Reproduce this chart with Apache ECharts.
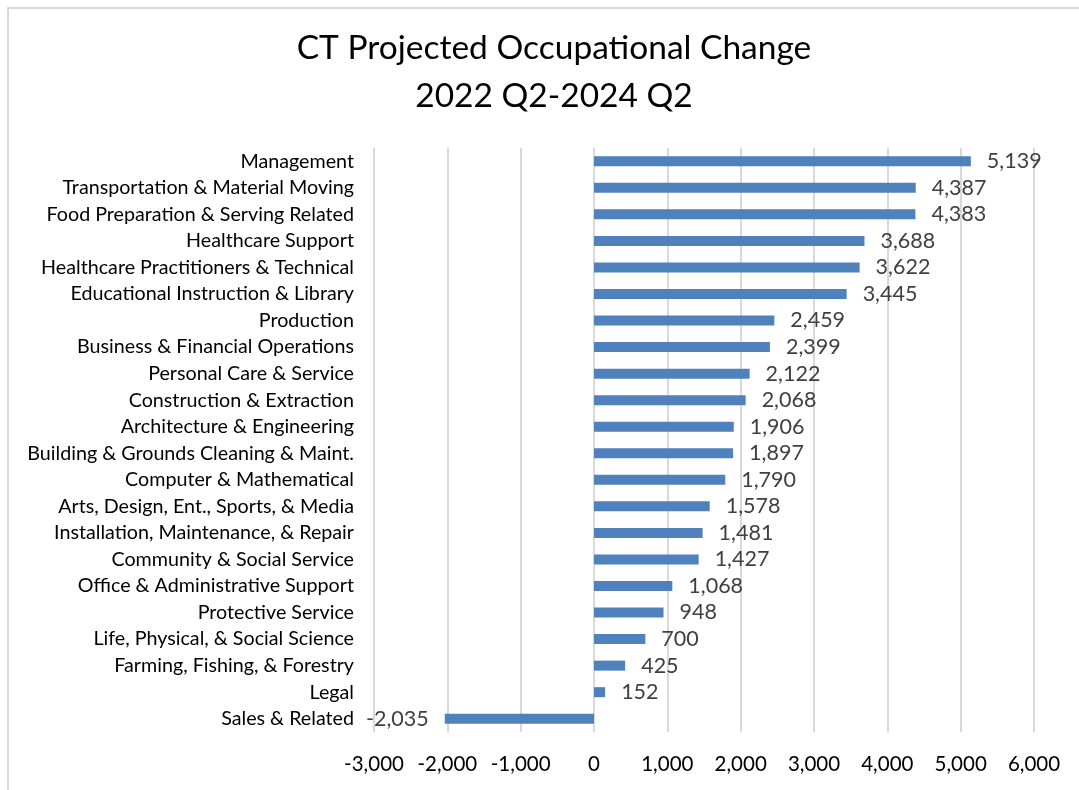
<!DOCTYPE html>
<html>
<head>
<meta charset="utf-8">
<script src="https://cdn.jsdelivr.net/npm/echarts@6/dist/echarts.min.js"></script>
<style>
html, body { margin: 0; padding: 0; background: #fff; }
#chart { width: 1079px; height: 790px; }
</style>
</head>
<body>
<div id="chart"></div>
<script>
// occupations, top to bottom as in the picture
var categories = [
	"Management",
	"Transportation & Material Moving",
	"Food Preparation & Serving Related",
	"Healthcare Support",
	"Healthcare Practitioners & Technical",
	"Educational Instruction & Library",
	"Production",
	"Business & Financial Operations",
	"Personal Care & Service",
	"Construction & Extraction",
	"Architecture & Engineering",
	"Building & Grounds Cleaning & Maint.",
	"Computer & Mathematical",
	"Arts, Design, Ent., Sports, & Media",
	"Installation, Maintenance, & Repair",
	"Community & Social Service",
	"Office & Administrative Support",
	"Protective Service",
	"Life, Physical, & Social Science",
	"Farming, Fishing, & Forestry",
	"Legal",
	"Sales & Related"
];
var changes = [5139, 4387, 4383, 3688, 3622, 3445, 2459, 2399, 2122, 2068, 1906, 1897, 1790, 1578, 1481, 1427, 1068, 948, 700, 425, 152, -2035];
var xMin = -3000, xMax = 6000, xStep = 1000;

var font = "Lato, 'Open Sans', sans-serif";

function fmt(v) {
	return Math.round(v).toLocaleString("en-US");
}

// category axis goes bottom-up, so reverse
var cats = categories.slice().reverse();
var vals = changes.slice().reverse().map(function (v) {
	return {
		value: v,
		label: { position: v < 0 ? "left" : "right" }
	};
});

var chart = echarts.init(document.getElementById("chart"));
chart.setOption({
	animation: false,
	backgroundColor: "#fff",
	textStyle: { fontFamily: font },
	graphic: [{
		type: "rect",
		silent: true,
		shape: { x: 8, y: 8, width: 1100, height: 800 },
		style: { fill: "none", stroke: "#d9d9d9", lineWidth: 2 }
	}],
	title: {
		text: "CT Projected Occupational Change\n2022 Q2-2024 Q2",
		left: 549,
		textAlign: "center",
		top: 19,
		textStyle: {
			fontFamily: font,
			fontSize: 33.5,
			fontWeight: "normal",
			color: "#000",
			lineHeight: 48
		}
	},
	grid: { left: 374, right: 45, top: 148, bottom: 58 },
	xAxis: {
		type: "value",
		min: xMin,
		max: xMax,
		interval: xStep,
		axisLine: { show: false },
		axisTick: { show: false },
		splitLine: { lineStyle: { color: "#d9d9d9", width: 2 } },
		axisLabel: {
			margin: 22,
			fontSize: 20.5,
			color: "#000",
			fontFamily: font,
			formatter: fmt
		}
	},
	yAxis: {
		type: "category",
		data: cats,
		axisLine: { show: false },
		axisTick: { show: false },
		axisLabel: {
			margin: 20,
			fontSize: 19.7,
			color: "#000",
			fontFamily: font
		}
	},
	series: [{
		type: "bar",
		data: vals,
		barWidth: 10,
		itemStyle: { color: "#4f81bd" },
		label: {
			show: true,
			distance: 16,
			fontSize: 21.5,
			color: "#404040",
			fontFamily: font,
			formatter: function (p) { return fmt(p.value); }
		}
	}]
});
</script>
</body>
</html>
